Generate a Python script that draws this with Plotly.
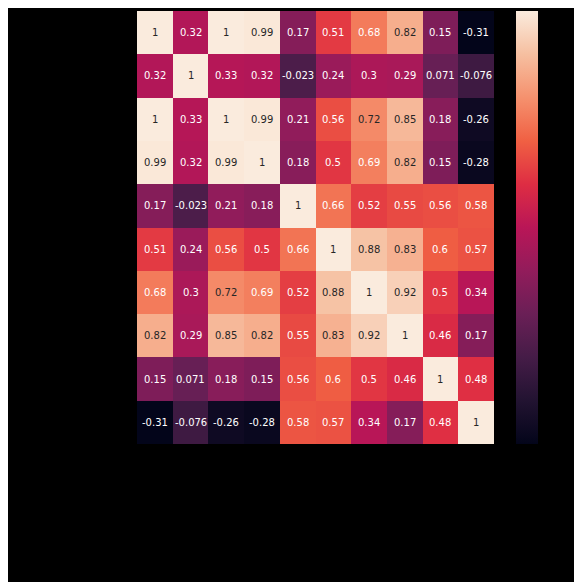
import plotly.graph_objects as go

labels = [str(i) for i in range(10)]
values = [
 [1, 0.32, 1, 0.99, 0.17, 0.51, 0.68, 0.82, 0.15, -0.31],
 [0.32, 1, 0.33, 0.32, -0.023, 0.24, 0.3, 0.29, 0.071, -0.076],
 [1, 0.33, 1, 0.99, 0.21, 0.56, 0.72, 0.85, 0.18, -0.26],
 [0.99, 0.32, 0.99, 1, 0.18, 0.5, 0.69, 0.82, 0.15, -0.28],
 [0.17, -0.023, 0.21, 0.18, 1, 0.66, 0.52, 0.55, 0.56, 0.58],
 [0.51, 0.24, 0.56, 0.5, 0.66, 1, 0.88, 0.83, 0.6, 0.57],
 [0.68, 0.3, 0.72, 0.69, 0.52, 0.88, 1, 0.92, 0.5, 0.34],
 [0.82, 0.29, 0.85, 0.82, 0.55, 0.83, 0.92, 1, 0.46, 0.17],
 [0.15, 0.071, 0.18, 0.15, 0.56, 0.6, 0.5, 0.46, 1, 0.48],
 [-0.31, -0.076, -0.26, -0.28, 0.58, 0.57, 0.34, 0.17, 0.48, 1],
]

rocket = [[0, "#03051A"], [0.1, "#221331"], [0.2, "#451C47"], [0.3, "#6A1F56"],
          [0.4, "#921C5B"], [0.5, "#B91657"], [0.6, "#DE2D43"], [0.7, "#F06043"],
          [0.8, "#F5916E"], [0.9, "#F6BFA0"], [1, "#FAEBDD"]]

L, R, T, B = 129, 96, 3, 146
W = 582 - L - R
fig = go.Figure(go.Heatmap(z=values, x=labels, y=labels, colorscale=rocket,
                           zmin=-0.31, zmax=1,
                           colorbar=dict(x=(379) / W, xanchor="left", xpad=0, ypad=0,
                                         lenmode="pixels", len=433, y=1, yanchor="top",
                                         thickness=22, outlinewidth=0,
                                         showticklabels=False, ticks="")))
for i, row in enumerate(values):
    for j, v in enumerate(row):
        txt = f"{v:.2g}" if abs(v) < 1 else "1"
        fig.add_annotation(x=labels[j], y=labels[i], text=txt, showarrow=False,
                           font=dict(size=10, family="DejaVu Sans",
                                     color="#262626" if v > 0.7 else "white"))

fig.update_layout(width=582, height=582, paper_bgcolor="black", plot_bgcolor="black",
                  margin=dict(l=L, r=R, t=T, b=B), showlegend=False)
fig.update_xaxes(showticklabels=False, ticks="", showgrid=False, zeroline=False)
fig.update_yaxes(showticklabels=False, ticks="", showgrid=False, zeroline=False, autorange="reversed")
fig.write_html("out.html")
